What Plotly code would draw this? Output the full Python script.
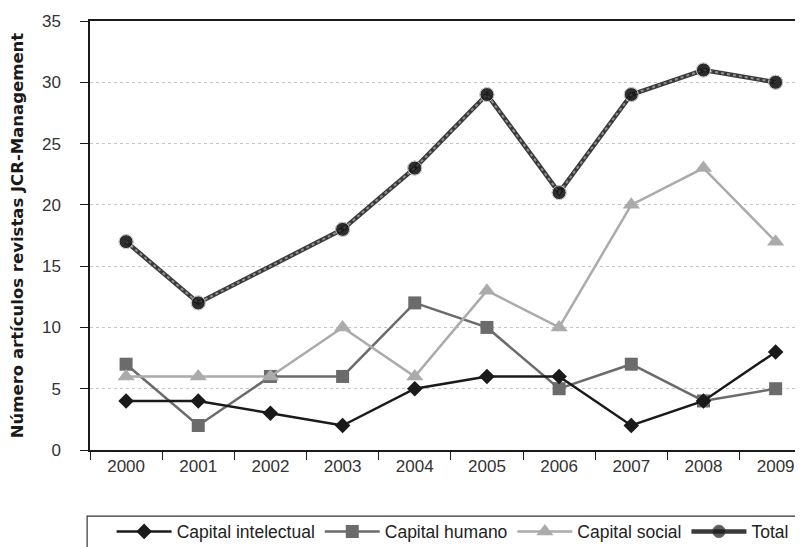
import plotly.graph_objects as go

years = ["2000", "2001", "2002", "2003", "2004", "2005", "2006", "2007", "2008", "2009"]
capital_intelectual = [4, 4, 3, 2, 5, 6, 6, 2, 4, 8]
capital_humano = [7, 2, 6, 6, 12, 10, 5, 7, 4, 5]
capital_social = [6, 6, 6, 10, 6, 13, 10, 20, 23, 17]
total = [17, 12, 15, 18, 23, 29, 21, 29, 31, 30]
# the reference draws no marker for Total in 2002
total_marker_sizes = [14, 14, 0, 14, 14, 14, 14, 14, 14, 14]

FONT = "Liberation Sans"

fig = go.Figure()

fig.add_trace(go.Scatter(
    x=years, y=capital_humano, name="Capital humano", mode="lines+markers",
    line=dict(color="#6b6b6b", width=2.5),
    marker=dict(symbol="square", size=13, color="#6b6b6b"),
))
fig.add_trace(go.Scatter(
    x=years, y=capital_social, name="Capital social", mode="lines+markers",
    line=dict(color="#ababab", width=2.5),
    marker=dict(symbol="triangle-up", size=15, color="#ababab"),
))
fig.add_trace(go.Scatter(
    x=years, y=capital_intelectual, name="Capital intelectual", mode="lines+markers",
    line=dict(color="#1a1a1a", width=2.5),
    marker=dict(symbol="diamond", size=12, color="#1a1a1a"),
))
fig.add_trace(go.Scatter(
    x=years, y=total, name="Total", mode="lines+markers",
    line=dict(color="#3a3a3a", width=4.5),
    marker=dict(symbol="circle", size=total_marker_sizes, color="#1a1a1a"),
))
fig.add_trace(go.Scatter(
    x=years, y=total, mode="lines", showlegend=False, hoverinfo="skip",
    line=dict(color="#909090", width=2, dash="dot"),
))
fig.add_trace(go.Scatter(
    x=years, y=total, mode="markers", showlegend=False, hoverinfo="skip",
    marker=dict(symbol="circle", size=total_marker_sizes, color="#1a1a1a"),
))

# legend order
fig.data[2].legendrank = 1
fig.data[0].legendrank = 2
fig.data[1].legendrank = 3
fig.data[3].legendrank = 4

fig.update_layout(
    width=803, height=547,
    margin=dict(l=82, r=0, t=13, b=105),
    paper_bgcolor="white", plot_bgcolor="white",
    font=dict(family=FONT, color="#333333", size=17),
    showlegend=True,
    legend=dict(
        orientation="h", x=0.03, xanchor="left", y=-0.19, yanchor="middle",
        font=dict(family=FONT, size=17.5, color="#222222"),
        itemwidth=55,
        bgcolor="rgba(0,0,0,0)", traceorder="normal",
    ),
    xaxis=dict(
        type="category", range=[-0.5, 9.49], automargin=False,
        showline=True, linecolor="#1a1a1a", linewidth=1.5, mirror=True,
        ticks="outside", tickson="boundaries", ticklen=8, tickcolor="#1a1a1a", tickwidth=1.2,
        showgrid=False, tickfont=dict(size=17, color="#333333"),
    ),
    yaxis=dict(
        range=[0, 35], dtick=5, tick0=0, automargin=False,
        showline=True, linecolor="#1a1a1a", linewidth=1.5,
        ticks="outside", ticklen=8, tickcolor="#1a1a1a", tickwidth=1.2,
        ticklabelstandoff=16,
        showgrid=True, gridcolor="#c4c4c4", gridwidth=1, griddash="dot",
        zeroline=False, tickfont=dict(size=17, color="#333333"),
        title=dict(text="<b>Número artículos revistas JCR-Management</b>",
                   font=dict(family="DejaVu Sans", size=16.5, color="#1a1a1a"), standoff=14),
    ),
    shapes=[dict(
        type="rect", xref="paper", yref="paper",
        x0=-0.004, x1=1.2, y0=-0.154, y1=-0.4,
        line=dict(color="#333333", width=1.2), fillcolor="rgba(0,0,0,0)", layer="below",
    )],
)

fig.write_html("out.html")
